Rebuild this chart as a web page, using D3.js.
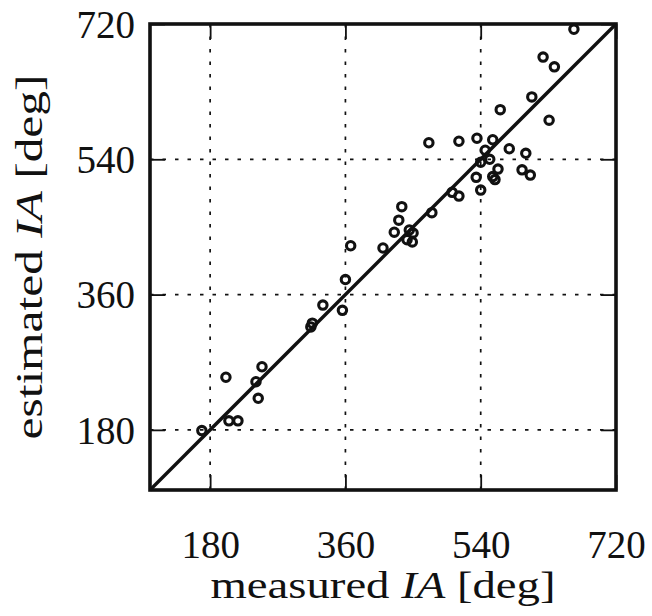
<!DOCTYPE html>
<html>
<head>
<meta charset="utf-8">
<script src="https://cdn.jsdelivr.net/npm/d3@7"></script>
<style>
    body { margin: 0; background: #fff; }
    text { font-family: "Liberation Serif", "DejaVu Serif", serif; fill: #111; }
</style>
</head>
<body>
<div id="chart"></div>
<script>

// measured IA [deg] / estimated IA [deg]
let measured = [169, 201, 205, 217, 241, 244, 249,
    314, 316, 330, 356, 360, 367, 410,
    425, 431, 435, 442, 445, 449, 450, 475,
    502, 511,
    471, 511, 534, 535, 540, 540, 546, 552, 556, 556, 559, 563, 566, 578, 595, 600, 606, 608, 623, 631, 638, 664];
let estimated = [179, 250, 192, 192, 244, 222, 264,
    317, 322, 346, 339, 380, 425, 422,
    443, 459, 477, 433, 446, 430, 442, 469,
    496, 491,
    562, 564, 516, 568, 536, 499, 552, 540, 566, 517, 513, 527, 606, 554, 526, 548, 519, 623, 676, 592, 663, 713];
let tickValues = [180, 360, 540, 720];
let axisRange = [100, 720];

let w = 652;
let h = 616;
let plotLeft = 150, plotRight = 616, plotTop = 24, plotBottom = 490;

let dataset = measured.map(function (m, i) {
    return {x: m, y: estimated[i]};
});

let x = d3.scaleLinear().domain(axisRange).range([plotLeft, plotRight]);
let y = d3.scaleLinear().domain(axisRange).range([plotBottom, plotTop]);

let svg = d3.select("#chart")
    .append("svg")
    .attr("width", w)
    .attr("height", h);

// dotted grid
let grid = svg.append("g");
grid.selectAll(".gx")
    .data(tickValues)
    .enter()
    .append("line")
    .attr("class", "gx")
    .attr("x1", function (d) { return x(d); })
    .attr("x2", function (d) { return x(d); })
    .attr("y1", plotTop)
    .attr("y2", plotBottom);
grid.selectAll(".gy")
    .data(tickValues)
    .enter()
    .append("line")
    .attr("class", "gy")
    .attr("y1", function (d) { return y(d); })
    .attr("y2", function (d) { return y(d); })
    .attr("x1", plotLeft)
    .attr("x2", plotRight);
grid.selectAll("line")
    .attr("stroke", "#111")
    .attr("stroke-width", 1.7)
    .attr("stroke-dasharray", "3.5,9");

// inward ticks on all four sides
let tickLen = 15;
let axes = [
    d3.axisBottom(x).tickSizeInner(-tickLen).tickSizeOuter(0),
    d3.axisTop(x).tickSizeInner(-tickLen).tickSizeOuter(0),
    d3.axisLeft(y).tickSizeInner(-tickLen).tickSizeOuter(0),
    d3.axisRight(y).tickSizeInner(-tickLen).tickSizeOuter(0)
];
let shifts = ["translate(0," + plotBottom + ")", "translate(0," + plotTop + ")",
    "translate(" + plotLeft + ",0)", "translate(" + plotRight + ",0)"];
axes.forEach(function (ax, i) {
    let g = svg.append("g")
        .attr("transform", shifts[i])
        .call(ax.tickValues(tickValues));
    g.select(".domain").remove();
    g.selectAll(".tick line").attr("stroke", "#111").attr("stroke-width", 1.8);
    if (i === 0 || i === 2) {
        g.selectAll(".tick text")
            .attr("font-size", "39px")
            .attr("font-family", null)
            .attr("fill", "#111");
    } else {
        g.selectAll(".tick text").remove();
    }
    if (i === 0) {
        g.selectAll(".tick text").attr("y", 40).attr("dy", "0.71em");
    } else if (i === 2) {
        g.selectAll(".tick text").attr("x", -15).attr("dy", "0.34em");
    }
});

// y = x reference line
svg.append("line")
    .attr("x1", x(axisRange[0]))
    .attr("y1", y(axisRange[0]))
    .attr("x2", x(axisRange[1]))
    .attr("y2", y(axisRange[1]))
    .attr("stroke", "#111")
    .attr("stroke-width", 3.4);

svg.selectAll("circle")
    .data(dataset)
    .enter()
    .append("circle")
    .attr("cx", function (d) { return x(d.x); })
    .attr("cy", function (d) { return y(d.y); })
    .attr("r", 4.2)
    .attr("fill", "none")
    .attr("stroke", "#111")
    .attr("stroke-width", 3.1);

// frame
svg.append("rect")
    .attr("x", plotLeft)
    .attr("y", plotTop)
    .attr("width", plotRight - plotLeft)
    .attr("height", plotBottom - plotTop)
    .attr("fill", "none")
    .attr("stroke", "#111")
    .attr("stroke-width", 3.6);

// axis labels, stretched to the wider book face of the original
function axisLabel(t, word, len) {
    t.attr("font-size", "38px")
        .attr("text-anchor", "middle")
        .attr("textLength", len)
        .attr("lengthAdjust", "spacingAndGlyphs");
    t.append("tspan").text(word + " ");
    t.append("tspan").attr("font-style", "italic").text("IA");
    t.append("tspan").text(" [deg]");
}

let xl = svg.append("text")
    .attr("x", (plotLeft + plotRight) / 2)
    .attr("y", 598);
axisLabel(xl, "measured", 345);

let yl = svg.append("text")
    .attr("transform", "translate(42," + (plotTop + plotBottom) / 2 + ") rotate(-90)");
axisLabel(yl, "estimated", 365);

</script>
</body>
</html>
